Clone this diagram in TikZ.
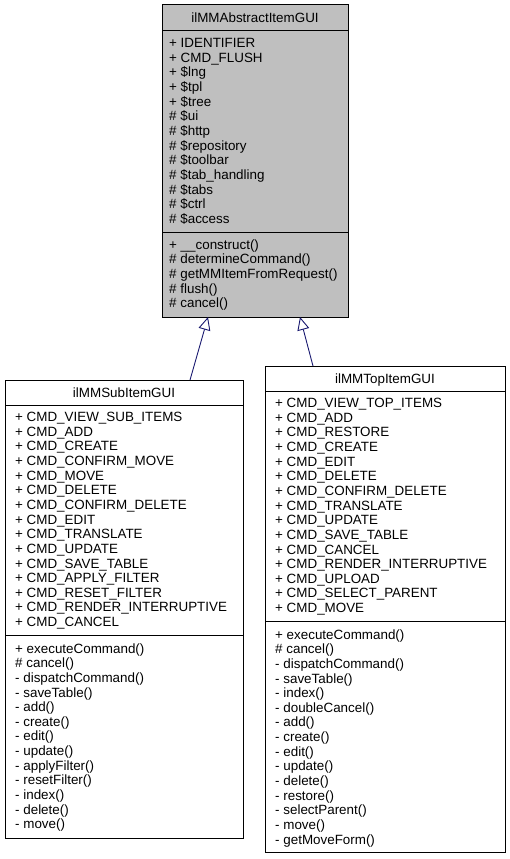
\documentclass[tikz,border=0pt]{standalone}
\usepackage{fontspec}
\setmainfont{Liberation Sans}
\usetikzlibrary{arrows.meta}
\definecolor{edgeblue}{HTML}{191970}
\definecolor{boxgrey}{HTML}{BFBFBF}
\tikzset{
  umlbox/.style={draw=black, line width=1pt, anchor=north west, inner sep=0pt, outer sep=0pt},
  mline/.style={anchor=base west, inner sep=0pt, font=\fontsize{13.4}{14.6}\selectfont},
  mtitle/.style={anchor=base, inner sep=0pt, font=\fontsize{13.4}{14.6}\selectfont},
  sepline/.style={draw=black, line width=1pt},
  inherit/.style={draw=edgeblue, line width=0.9pt, -{Triangle[open, length=13pt, width=12pt, fill=white]}},
}
\newcommand\classlines[4]{%
  \foreach \t [count=\i from 0] in {#4} {
    \node[mline] (#1\i) at ({#2}, {#3+14.64*\i+4.6}) {\t};
  }%
}
\begin{document}
\begin{tikzpicture}[x=1pt, y=-1pt]
\useasboundingbox (0,0) rectangle (509,859);

% ---- top class
\node[umlbox, fill=boxgrey, minimum width=186pt, minimum height=312pt] (top) at (162,5) {};
\node[mtitle] (toptitle) at (255, 22.2) {ilMMAbstractItemGUI};
\draw[sepline] (162,31) -- (348,31);
\draw[sepline] (162,232) -- (348,232);
\classlines{topa}{169}{43}{+ IDENTIFIER, + CMD\_FLUSH, + \$lng, + \$tpl, + \$tree, \# \$ui, \# \$http, \# \$repository, \# \$toolbar, \# \$tab\_handling, \# \$tabs, \# \$ctrl, \# \$access}
\classlines{topm}{169}{244.5}{+ \_\_construct(), \# determineCommand(), \# getMMItemFromRequest(), \# flush(), \# cancel()}

% ---- left class
\node[umlbox, fill=white, minimum width=238pt, minimum height=458pt] (sub) at (5,380) {};
\node[mtitle] (subtitle) at (124, 397.2) {ilMMSubItemGUI};
\draw[sepline] (5,405) -- (243,405);
\draw[sepline] (5,635.5) -- (243,635.5);
\classlines{suba}{15}{417}{+ CMD\_VIEW\_SUB\_ITEMS, + CMD\_ADD, + CMD\_CREATE, + CMD\_CONFIRM\_MOVE, + CMD\_MOVE, + CMD\_DELETE, + CMD\_CONFIRM\_DELETE, + CMD\_EDIT, + CMD\_TRANSLATE, + CMD\_UPDATE, + CMD\_SAVE\_TABLE, + CMD\_APPLY\_FILTER, + CMD\_RESET\_FILTER, + CMD\_RENDER\_INTERRUPTIVE, + CMD\_CANCEL}
\classlines{subm}{15}{648.5}{+ executeCommand(), \# cancel(), - dispatchCommand(), - saveTable(), - add(), - create(), - edit(), - update(), - applyFilter(), - resetFilter(), - index(), - delete(), - move()}

% ---- right class
\node[umlbox, fill=white, minimum width=240pt, minimum height=486pt] (tpi) at (265,366) {};
\node[mtitle] (tpititle) at (385, 383.2) {ilMMTopItemGUI};
\draw[sepline] (265,391) -- (505,391);
\draw[sepline] (265,621.5) -- (505,621.5);
\classlines{tpia}{275}{403}{+ CMD\_VIEW\_TOP\_ITEMS, + CMD\_ADD, + CMD\_RESTORE, + CMD\_CREATE, + CMD\_EDIT, + CMD\_DELETE, + CMD\_CONFIRM\_DELETE, + CMD\_TRANSLATE, + CMD\_UPDATE, + CMD\_SAVE\_TABLE, + CMD\_CANCEL, + CMD\_RENDER\_INTERRUPTIVE, + CMD\_UPLOAD, + CMD\_SELECT\_PARENT, + CMD\_MOVE}
\classlines{tpim}{275}{634.5}{+ executeCommand(), \# cancel(), - dispatchCommand(), - saveTable(), - index(), - doubleCancel(), - add(), - create(), - edit(), - update(), - delete(), - restore(), - selectParent(), - move(), - getMoveForm()}

% ---- inheritance
\coordinate (subtip) at ([xshift=46pt]top.south west);
\coordinate (subfoot) at ([xshift=185pt]sub.north west);
\coordinate (tpitip) at ([xshift=138pt]top.south west);
\coordinate (tpifoot) at ([xshift=48pt]tpi.north west);
\draw[inherit] (subfoot) -- (subtip);
\draw[inherit] (tpifoot) -- (tpitip);
\end{tikzpicture}
\end{document}
